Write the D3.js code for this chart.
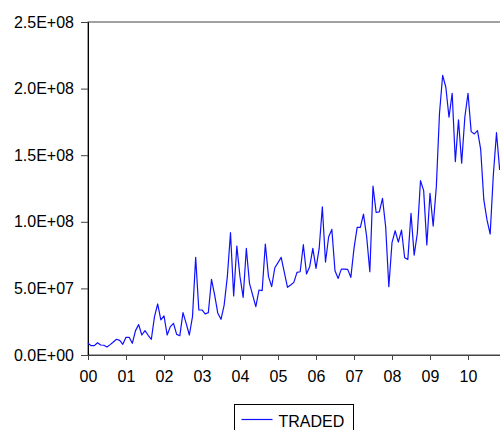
<!DOCTYPE html>
<html>
<head>
<meta charset="utf-8">
<script src="https://cdn.jsdelivr.net/npm/d3@7"></script>
<style>
  body { margin: 0; background: #fff; }
  text { font-family: "Liberation Sans", Arial, sans-serif; }
</style>
</head>
<body>
<script>
var width = 500,
    height = 430;

// monthly observations, Jan 2000 .. Nov 2010 (units of 1e6)
var startYear = 2000;
var traded = [
  8.8, 7.0, 7.0, 9.2, 7.5, 7.3, 6.0, 7.8, 9.8, 11.8, 11.0, 8.0,
  13.3, 13.3, 8.8, 18.3, 22.8, 15.0, 18.3, 14.8, 11.8, 28.8, 38.3, 26.3,
  29.3, 15.0, 21.3, 23.8, 15.5, 14.5, 31.8, 23.8, 15.0, 28.8, 73.3, 33.8,
  33.8, 30.8, 31.8, 56.8, 45.0, 31.3, 26.8, 37.5, 58.8, 91.8, 44.3, 81.8,
  58.8, 43.3, 80.0, 53.8, 45.0, 36.3, 48.8, 48.3, 83.3, 58.8, 51.3, 65.5,
  69.3, 73.3, 62.0, 50.8, 52.5, 54.5, 62.0, 62.5, 82.8, 60.8, 66.3, 80.0,
  65.0, 80.0, 111.3, 69.8, 88.8, 94.3, 63.3, 57.5, 64.5, 64.5, 64.3, 58.3,
  80.0, 95.8, 95.8, 105.8, 88.8, 62.5, 126.8, 107.0, 107.5, 117.6, 96.3, 51.3,
  84.3, 93.3, 84.8, 93.8, 73.0, 71.8, 106.4, 75.0, 91.4, 130.9, 123.4, 82.6,
  121.4, 96.8, 126.4, 181.5, 210.0, 201.0, 178.5, 196.5, 145.2, 176.5, 144.0, 178.5,
  196.5, 167.7, 166.0, 168.4, 154.5, 116.4, 101.4, 90.8, 135.1, 166.9, 138.9
];
var unit = 1e6;
var yearTicks = [2000, 2001, 2002, 2003, 2004, 2005, 2006, 2007, 2008, 2009, 2010];
var valueTicks = [0, 5e7, 1e8, 1.5e8, 2e8, 2.5e8];
var seriesName = "TRADED";

var data = traded.map(function(v, i) {
  return {t: startYear + i / 12, v: v * unit};
});

var margin = {left: 88, top: 22, bottom: 75};
var pxPerYear = 38;

var x = d3.scaleLinear()
    .domain([startYear, startYear + (traded.length - 1) / 12])
    .range([margin.left, margin.left + pxPerYear * (traded.length - 1) / 12]);

var y = d3.scaleLinear()
    .domain([0, 2.5e8])
    .range([height - margin.bottom, margin.top]);

function sciFmt(v) {
  if (v === 0) return "0.0E+00";
  var e = Math.floor(Math.log10(v));
  var m = v / Math.pow(10, e);
  return m.toFixed(1) + "E" + (e < 0 ? "-" : "+") + String(Math.abs(e)).padStart(2, "0");
}

var svg = d3.select("body").append("svg")
    .attr("width", width)
    .attr("height", height);

// frame
svg.append("rect")
    .attr("x", margin.left)
    .attr("y", margin.top)
    .attr("width", width + 5 - margin.left)
    .attr("height", y(0) - margin.top)
    .attr("fill", "none")
    .attr("stroke", "#444")
    .attr("stroke-width", 1);

var yAxis = svg.append("g")
    .attr("transform", "translate(" + margin.left + ",0)")
    .call(d3.axisLeft(y).tickValues(valueTicks).tickFormat(sciFmt).tickSize(7).tickPadding(7));

var xAxis = svg.append("g")
    .attr("transform", "translate(0," + y(0) + ")")
    .call(d3.axisBottom(x).tickValues(yearTicks)
      .tickFormat(function(d) { return String(d % 100).padStart(2, "0"); })
      .tickSize(5).tickPadding(11));

xAxis.select(".domain").attr("d", "M" + margin.left + ",0.5H" + (width + 5)).attr("stroke", "#444");
yAxis.select(".domain").attr("stroke", "#000");

svg.selectAll(".tick text")
    .attr("font-size", 16)
    .attr("font-family", "Liberation Sans, Arial, sans-serif")
    .attr("fill", "#000");
svg.selectAll(".tick line").attr("stroke", "#444");

var line = d3.line()
    .x(function(d) { return x(d.t); })
    .y(function(d) { return y(d.v); });

svg.append("path")
    .datum(data)
    .attr("fill", "none")
    .attr("stroke", "#1010ff")
    .attr("stroke-width", 1.2)
    .attr("stroke-linejoin", "round")
    .attr("d", line);

// legend
var legend = svg.append("g").attr("transform", "translate(234.5,404.5)");
legend.append("rect")
    .attr("width", 119)
    .attr("height", 32)
    .attr("fill", "#fff")
    .attr("stroke", "#000");
legend.append("line")
    .attr("x1", 7).attr("x2", 38)
    .attr("y1", 15).attr("y2", 15)
    .attr("stroke", "#1010ff")
    .attr("stroke-width", 1.2);
legend.append("text")
    .attr("x", 44)
    .attr("y", 22)
    .attr("font-size", 16)
    .text(seriesName);
</script>
</body>
</html>
